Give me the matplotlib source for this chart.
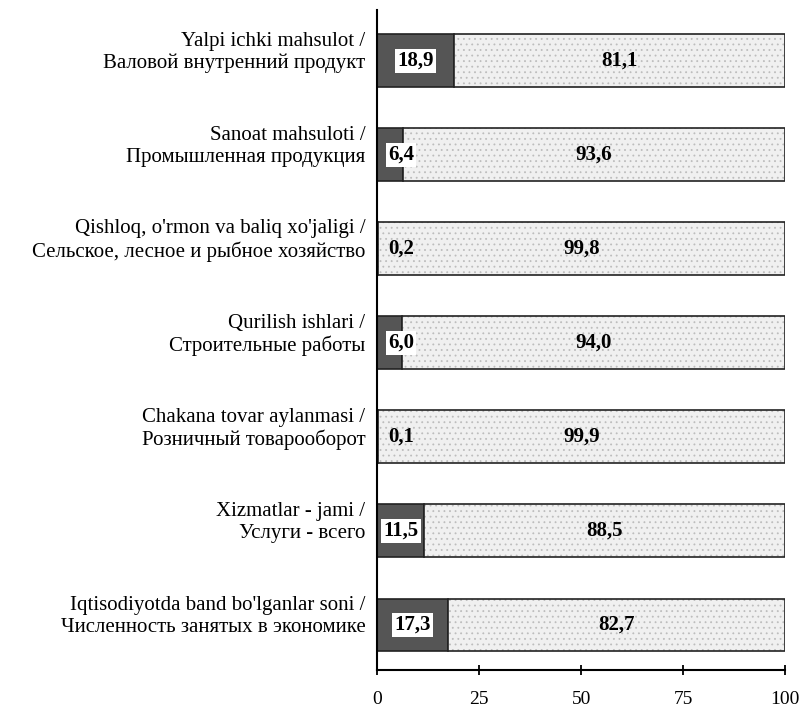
import matplotlib.pyplot as plt

categories = [
    "Yalpi ichki mahsulot /\nВаловой внутренний продукт",
    "Sanoat mahsuloti /\nПромышленная продукция",
    "Qishloq, o'rmon va baliq xo'jaligi /\nСельское, лесное и рыбное хозяйство",
    "Qurilish ishlari /\nСтроительные работы",
    "Chakana tovar aylanmasi /\nРозничный товарооборот",
    "Xizmatlar - jami /\nУслуги - всего",
    "Iqtisodiyotda band bo'lganlar soni /\nЧисленность занятых в экономике",
]
share_a = [18.9, 6.4, 0.2, 6.0, 0.1, 11.5, 17.3]
share_b = [81.1, 93.6, 99.8, 94.0, 99.9, 88.5, 82.7]
xticks = [0, 25, 50, 75, 100]

plt.rcParams['font.family'] = ['Liberation Serif', 'DejaVu Serif']
plt.rcParams['hatch.linewidth'] = 0.6

fig = plt.figure(figsize=(8.01, 7.15), dpi=100)
ax = fig.add_axes([0.471, 0.063, 0.509, 0.923])

n = len(categories)
ypos = [n - 1 - i for i in range(n)]
h = 0.56

# dark part
ax.barh(ypos, share_a, height=h, color='#555555', edgecolor='#222222', lw=1.2)
# light dotted part: fill + hatch first, outline on top
ax.barh(ypos, share_b, left=share_a, height=h, color='#f0f0f0',
        edgecolor='#bdbdbd', lw=0, hatch='...')
ax.barh(ypos, share_b, left=share_a, height=h, fill=False,
        edgecolor='#222222', lw=1.2)

for y, a, b in zip(ypos, share_a, share_b):
    la = f"{a:.1f}".replace('.', ',')
    lb = f"{b:.1f}".replace('.', ',')
    xa = max(a / 2, 5.8)
    bbox = dict(facecolor='white', edgecolor='none', pad=1.5) if a > 1 else None
    ax.text(xa, y, la, ha='center', va='center', fontsize=15,
            fontweight='bold', bbox=bbox)
    ax.text(a + b / 2, y, lb, ha='center', va='center', fontsize=15,
            fontweight='bold')

# category labels, right aligned left of the axis, a bit above bar centre
for y, cat in zip(ypos, categories):
    ax.annotate(cat, xy=(0, y), xytext=(-12, 8), textcoords='offset pixels',
                ha='right', va='center', multialignment='right',
                fontsize=15, linespacing=1.2, annotation_clip=False)

ax.set_xlim(0, 100)
ax.set_ylim(-0.48, 6.54)
ax.set_xticks(xticks)
ax.set_xticklabels([str(t) for t in xticks], fontsize=14)
ax.set_yticks([])
ax.tick_params(axis='x', length=7, width=1.3, direction='inout', pad=12)

ax.spines['top'].set_visible(False)
ax.spines['right'].set_visible(False)
ax.spines['left'].set_linewidth(1.5)
ax.spines['bottom'].set_linewidth(1.5)

fig.savefig('out.png', dpi=100)
